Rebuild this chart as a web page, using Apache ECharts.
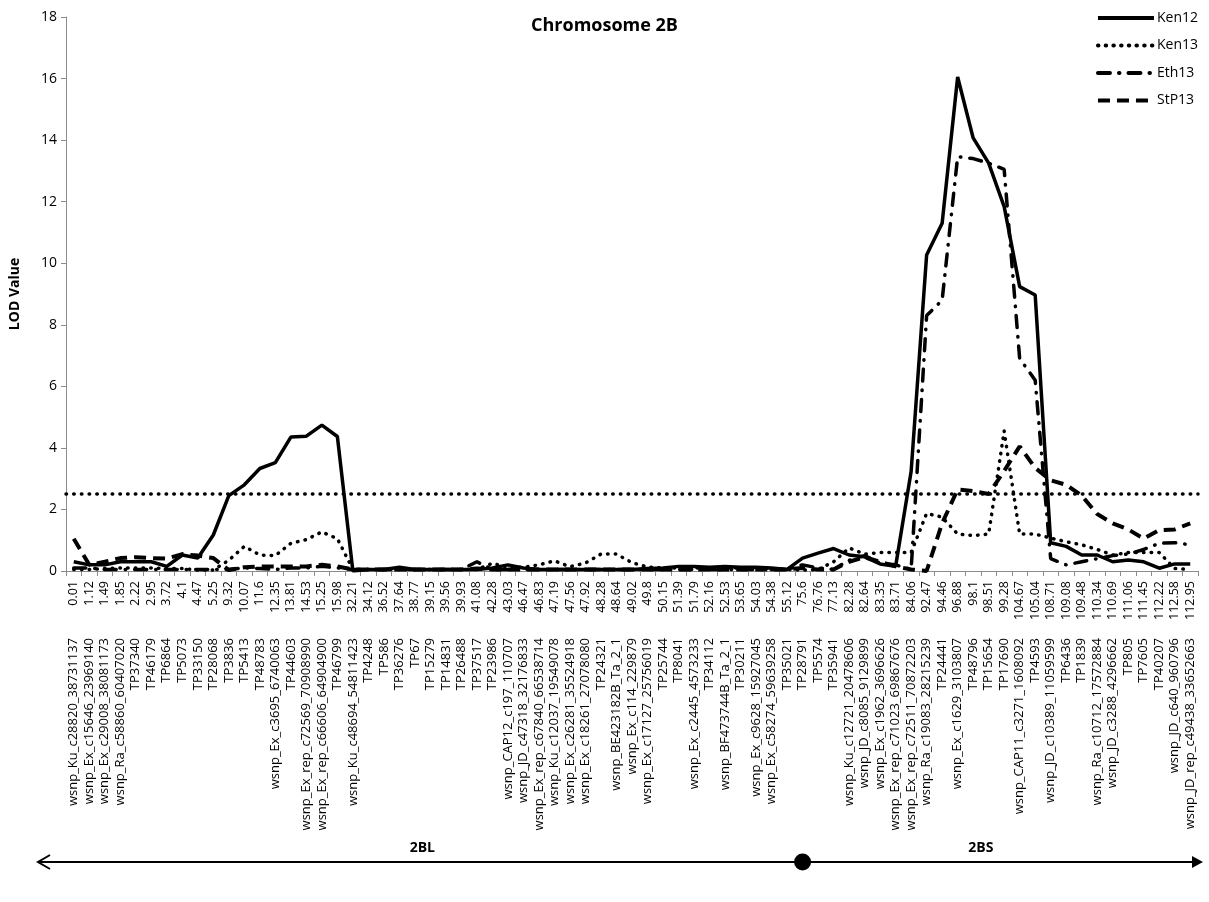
<!DOCTYPE html>
<html><head><meta charset="utf-8">
<script src="https://cdn.jsdelivr.net/npm/echarts@6/dist/echarts.min.js"></script>
<style>html,body{margin:0;padding:0;background:#fff}#c{width:1209px;height:902px}</style>
</head><body><div id="c"></div>
<script>
const positions = ['0.01','1.12','1.49','1.85','2.22','2.95','3.72','4.1','4.47','5.25','9.32','10.07','11.6','12.35','13.81','14.53','15.25','15.98','32.21','34.12','36.52','37.64','38.77','39.15','39.56','39.93','41.08','42.28','43.03','46.47','46.83','47.19','47.56','47.92','48.28','48.64','49.02','49.8','50.15','51.39','51.79','52.16','52.53','53.65','54.03','54.38','55.12','75.6','76.76','77.13','82.28','82.64','83.35','83.71','84.06','92.47','94.46','96.88','98.1','98.51','99.28','104.67','105.04','108.71','109.08','109.48','110.34','110.69','111.06','111.45','112.22','112.58','112.95'];
const markers = ['wsnp_Ku_c28820_38731137','wsnp_Ex_c15646_23969140','wsnp_Ex_c29008_38081173','wsnp_Ra_c58860_60407020','TP37340','TP46179','TP6864','TP5073','TP33150','TP28068','TP3836','TP5413','TP48783','wsnp_Ex_c3695_6740063','TP44603','wsnp_Ex_rep_c72569_70908990','wsnp_Ex_rep_c66606_64904900','TP46799','wsnp_Ku_c48694_54811423','TP4248','TP586','TP36276','TP67','TP15279','TP14831','TP26488','TP37517','TP23986','wsnp_CAP12_c197_110707','wsnp_JD_c47318_32176833','wsnp_Ex_rep_c67840_66538714','wsnp_Ku_c12037_19549078','wsnp_Ex_c26281_35524918','wsnp_Ex_c18261_27078080','TP24321','wsnp_BE423182B_Ta_2_1','wsnp_Ex_c114_229879','wsnp_Ex_c17127_25756019','TP25744','TP8041','wsnp_Ex_c2445_4573233','TP34112','wsnp_BF473744B_Ta_2_1','TP30211','wsnp_Ex_c9628_15927045','wsnp_Ex_c58274_59639258','TP35021','TP28791','TP5574','TP35941','wsnp_Ku_c12721_20478606','wsnp_JD_c8085_9129899','wsnp_Ex_c1962_3696626','wsnp_Ex_rep_c71023_69867676','wsnp_Ex_rep_c72511_70872203','wsnp_Ra_c19083_28215239','TP24441','wsnp_Ex_c1629_3103807','TP48796','TP15654','TP17690','wsnp_CAP11_c3271_1608092','TP4593','wsnp_JD_c10389_11059599','TP6436','TP1839','wsnp_Ra_c10712_17572884','wsnp_JD_c3288_4296662','TP805','TP7605','TP40207','wsnp_JD_c640_960796','wsnp_JD_rep_c49438_33652663'];

const ken12 = [0.3,0.2,0.2,0.3,0.3,0.3,0.15,0.52,0.42,1.17,2.45,2.8,3.33,3.52,4.35,4.38,4.74,4.37,0,0.05,0.05,0.12,0.05,0.05,0.05,0.05,0.05,0.1,0.2,0.1,0.05,0.05,0.05,0.05,0.05,0.05,0.05,0.08,0.1,0.15,0.15,0.12,0.15,0.12,0.12,0.1,0.05,0.42,0.58,0.73,0.52,0.46,0.23,0.15,3.23,10.27,11.3,16.05,14.07,13.25,11.84,9.24,8.97,0.92,0.8,0.52,0.52,0.3,0.36,0.3,0.09,0.23,0.23];
const ken13 = [0.05,0.05,0.08,0.1,0.1,0.1,0.08,0.08,0.03,0.03,0.35,0.8,0.52,0.5,0.9,1.02,1.27,1.05,0.05,0.05,0.05,0.05,0.05,0.05,0.05,0.05,0.05,0.25,0.12,0.12,0.2,0.33,0.14,0.26,0.55,0.55,0.27,0.13,0.1,0.1,0.1,0.1,0.1,0.1,0.1,0.08,0.05,0.03,0.05,0.3,0.75,0.55,0.6,0.6,0.6,1.87,1.75,1.2,1.15,1.2,4.55,1.2,1.2,1.07,0.95,0.85,0.7,0.52,0.6,0.6,0.6,0.08,0.05];
const eth13 = [0.1,0.1,0.05,0.05,0.05,0.05,0.05,0.05,0.05,0.05,0.05,0.1,0.08,0.05,0.1,0.1,0.15,0.1,0.05,0.05,0.05,0.05,0.05,0.05,0.05,0.05,0.3,0.05,0.05,0.05,0.05,0.05,0.05,0.05,0.05,0.05,0.05,0.05,0.05,0.05,0.05,0.05,0.05,0.05,0.05,0.05,0.05,0.2,0.1,0.05,0.35,0.5,0.25,0.2,0.05,8.3,8.8,13.46,13.4,13.25,13.05,6.9,6.2,0.4,0.2,0.3,0.4,0.5,0.55,0.7,0.9,0.92,0.85];
const stp13 = [1.05,0.2,0.3,0.42,0.45,0.42,0.4,0.55,0.5,0.42,0.03,0.12,0.15,0.15,0.15,0.15,0.2,0.15,0.05,0.05,0.05,0.05,0.05,0.05,0.05,0.05,0.08,0.05,0.05,0.05,0.05,0.05,0.05,0.05,0.05,0.05,0.05,0.05,0.05,0.05,0.05,0.05,0.05,0.05,0.05,0.05,0.05,0.1,0.05,0.05,0.3,0.45,0.3,0.15,0.05,0,1.55,2.65,2.6,2.5,3.25,4.05,3.35,2.95,2.8,2.45,1.85,1.55,1.35,1.05,1.33,1.35,1.55];

const lodThreshold = 2.5;
const centromere = '75.6';
const armLabels = ['2BL', '2BS'];

const FONT = 'Open Sans';
const chart = echarts.init(document.getElementById('c'), null, {renderer: 'canvas'});

function lineSeries(name, data, ls, extra) {
  return Object.assign({
    name: name, type: 'line', data: data, xAxisIndex: 0, yAxisIndex: 0,
    symbol: 'none', showSymbol: false, smooth: false, animation: false,
    color: '#000', itemStyle: {color: '#000'},
    lineStyle: Object.assign({color: '#000', width: 3.5}, ls)
  }, extra || {});
}

const option = {
  animation: false,
  backgroundColor: '#fff',
  color: ['#000', '#000', '#000', '#000'],
  textStyle: {fontFamily: FONT, color: '#000'},
  title: {
    text: 'Chromosome 2B', left: 'center', top: 12,
    textStyle: {fontFamily: FONT, fontSize: 18, fontWeight: 'bold', color: '#000'}
  },
  legend: {
    orient: 'vertical', right: 6, top: 6,
    itemWidth: 56, itemHeight: 14, itemGap: 13.5,
    itemStyle: {opacity: 0},
    lineStyle: {width: 4, color: '#000'},
    textStyle: {fontFamily: FONT, fontSize: 14, color: '#000', padding: [0, 0, 0, -2]},
    data: ['Ken12', 'Ken13', 'Eth13', 'StP13']
  },
  grid: {left: 65, right: 11, top: 17, bottom: 331, containLabel: false},
  xAxis: [
    {
      type: 'category', data: positions, position: 'bottom', boundaryGap: true,
      axisLine: {show: true, lineStyle: {color: '#8c8c8c', width: 1}},
      axisTick: {show: true, length: 5, lineStyle: {color: '#8c8c8c'}},
      axisLabel: {rotate: 90, interval: 0, margin: 10, fontSize: 12.5, fontFamily: FONT, color: '#000'},
      splitLine: {show: false}
    },
    {
      type: 'category', data: markers, position: 'bottom', boundaryGap: true,
      axisLine: {show: false}, axisTick: {show: false},
      axisLabel: {rotate: 90, interval: 0, margin: 67, fontSize: 13, fontFamily: FONT, color: '#000'},
      splitLine: {show: false}
    }
  ],
  yAxis: {
    type: 'value', min: 0, max: 18, interval: 2,
    name: 'LOD Value', nameLocation: 'middle', nameGap: 44,
    nameTextStyle: {fontFamily: FONT, fontSize: 14, fontWeight: 'bold', color: '#000'},
    axisLine: {show: true, lineStyle: {color: '#8c8c8c'}},
    axisTick: {show: true, length: 5, lineStyle: {color: '#8c8c8c'}},
    axisLabel: {fontSize: 14, fontFamily: FONT, color: '#000', margin: 9},
    splitLine: {show: false}
  },
  series: [
    lineSeries('Ken12', ken12, {type: 'solid', width: 3.5}),
    lineSeries('Ken13', ken13, {type: [0.5, 7.2], cap: 'round', width: 3.5}, {
      markLine: {
        silent: true, symbol: 'none', label: {show: false}, animation: false,
        lineStyle: {color: '#000', type: [0.5, 7.2], cap: 'round', width: 3.5},
        data: [{yAxis: lodThreshold}]
      }
    }),
    lineSeries('Eth13', eth13, {type: [12, 9, 0.5, 9], cap: 'round', width: 3.5}),
    lineSeries('StP13', stp13, {type: [12, 7], cap: 'butt', width: 4})
  ]
};
chart.setOption(option);

const cx = chart.convertToPixel({xAxisIndex: 0}, centromere);
const yLine = 862;
const xLeft = 38, xRight = 1203;
chart.setOption({
  graphic: [
    {type: 'line', shape: {x1: xLeft, y1: yLine, x2: xRight - 6, y2: yLine}, style: {stroke: '#000', lineWidth: 2}},
    {type: 'polyline', shape: {points: [[xLeft + 12, yLine - 7], [xLeft, yLine], [xLeft + 12, yLine + 7]]}, style: {stroke: '#000', lineWidth: 2, fill: null}},
    {type: 'polygon', shape: {points: [[xRight - 11, yLine - 6], [xRight, yLine], [xRight - 11, yLine + 6]]}, style: {fill: '#000'}},
    {type: 'circle', shape: {cx: cx, cy: yLine, r: 8.5}, style: {fill: '#000'}},
    {type: 'text', x: (xLeft + cx) / 2 + 2, y: yLine - 14, style: {text: armLabels[0], font: 'bold 14px "Open Sans"', fill: '#000', textAlign: 'center', textVerticalAlign: 'middle'}},
    {type: 'text', x: (cx + xRight) / 2 - 22, y: yLine - 14, style: {text: armLabels[1], font: 'bold 14px "Open Sans"', fill: '#000', textAlign: 'center', textVerticalAlign: 'middle'}}
  ]
});
</script>
</body></html>
